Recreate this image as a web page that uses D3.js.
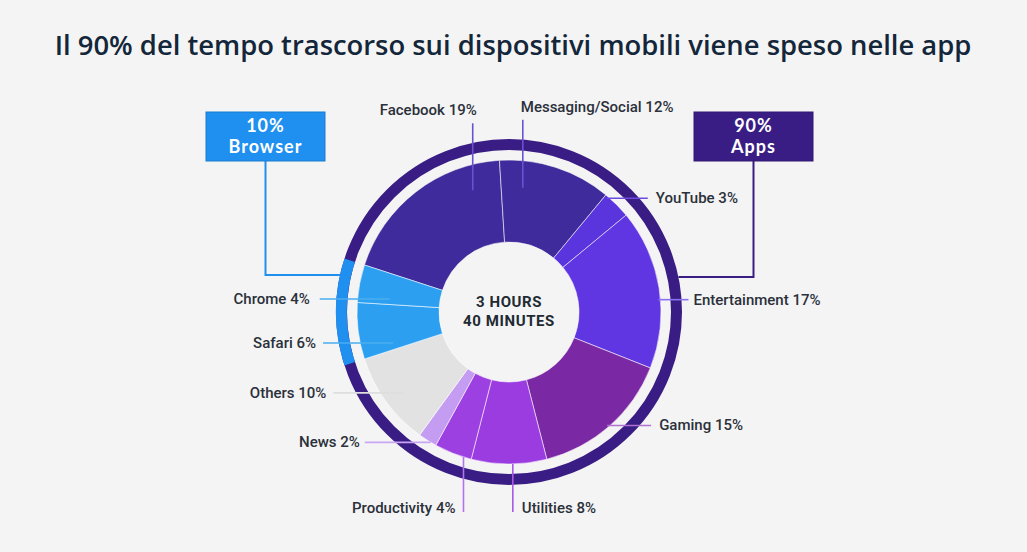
<!DOCTYPE html>
<html>
<head>
<meta charset="utf-8">
<script src="https://cdn.jsdelivr.net/npm/d3@7"></script>
<style>
	body { margin: 0; background: #f4f4f4; }
	svg { display: block; font-family: Roboto, "Noto Sans", sans-serif; }
</style>
</head>
<body>
<svg id="chart" width="1027" height="552"></svg>
<script>
// Data
const title = "Il 90% del tempo trascorso sui dispositivi mobili viene speso nelle app"
const categories = ["Facebook", "Messaging/Social", "YouTube", "Entertainment", "Gaming",
	"Utilities", "Productivity", "News", "Others", "Safari", "Chrome"]
const shares = [19, 12, 3, 17, 15, 8, 4, 2, 10, 6, 4]
const groupOf = ["Apps", "Apps", "Apps", "Apps", "Apps", "Apps", "Apps", "Apps", "Apps", "Browser", "Browser"]
const groups = ["Browser", "Apps"]
const centreText = ["3 HOURS", "40 MINUTES"]

// Styles
const sliceColours = ["#3f2b9b", "#3f2b9b", "#5a34dc", "#6035e2", "#7b28a4",
	"#9a3ce0", "#9c40e2", "#c49cf2", "#e2e2e2", "#2c9ff0", "#2c9ff0"]
const leaderColours = ["#6b52d2", "#6b52d2", "#6c4ae0", "#8a72f0", "#b072d2",
	"#a858e8", "#b274ea", "#c8a6f4", "#dedede", "#4aaef2", "#4aaef2"]
const groupColours = { Browser: "#1f8ff0", Apps: "#3a1d84" }

// Leader layout: where in the slice the line starts, which way it runs
const leaders = [
	{ frac: 0.81, r: 127, dir: "up", len: 67, anchor: "end", dx: 4 },
	{ frac: 0.23, r: 125, dir: "up", len: 68, anchor: "start", dx: -2 },
	{ frac: 0.10, r: 150, dir: "right", len: 41, anchor: "start", dx: 8 },
	{ frac: 0.57, r: 150, dir: "right", len: 30, anchor: "start", dx: 5 },
	{ frac: 0.51, r: 150, dir: "right", len: 44, anchor: "start", dx: 8 },
	{ frac: 0.45, r: 152, dir: "down", len: 48, anchor: "start", dx: 9 },
	{ frac: 0.21, r: 152, dir: "down", len: 55, anchor: "end", dx: -8 },
	{ frac: 0.30, r: 152, dir: "left", len: 66, anchor: "end", dx: -5 },
	{ frac: 0.46, r: 133, dir: "left", len: 70, anchor: "end", dx: -7 },
	{ frac: 0.14, r: 120, dir: "left", len: 70, anchor: "end", dx: -7 },
	{ frac: 0.18, r: 120, dir: "left", len: 70, anchor: "end", dx: -10 }
]

const width = 1027, height = 552
const cx = 509, cy = 312
const innerR = 70, outerR = 152, ringIn = 162, ringOut = 173
const rad = Math.PI / 180

const svg = d3.select("#chart")

svg.append("rect").attr("width", width).attr("height", height).attr("fill", "#f4f4f4")

// Title, fitted to the width it takes in the reference
let t = svg.append("text")
	.attr("x", 513).attr("y", 55)
	.attr("text-anchor", "middle")
	.style("font-family", "'Open Sans', sans-serif")
	.style("font-weight", 600)
	.style("font-size", "25px")
	.attr("fill", "#13263a")
	.text(title)
let tw = t.node().getComputedTextLength()
t.style("font-size", `${25 * 917 / tw}px`)

const data = categories.map((c, i) => ({ name: c, value: shares[i], group: groupOf[i], i }))

const pie = d3.pie()
	.sort(null)
	.value(d => d.value)
	.startAngle(-72 * rad)
	.endAngle(288 * rad)
const arcs = pie(data)

const g = svg.append("g").attr("transform", `translate(${cx},${cy})`)

// Outer group ring: a full Apps ring with the Browser share laid on top
const groupArcs = groups.map(name => {
	let own = arcs.filter(a => a.data.group === name)
	return { name, startAngle: d3.min(own, a => a.startAngle), endAngle: d3.max(own, a => a.endAngle),
		value: d3.sum(own, a => a.value) }
})
const ring = d3.arc().innerRadius(ringIn).outerRadius(ringOut)
g.append("circle").attr("r", (ringIn + ringOut) / 2)
	.attr("fill", "none").attr("stroke", groupColours.Apps).attr("stroke-width", ringOut - ringIn)
g.append("path")
	.datum(groupArcs.find(d => d.name === "Browser"))
	.attr("d", ring)
	.attr("fill", groupColours.Browser)

// Slices
const arc = d3.arc().innerRadius(innerR).outerRadius(outerR)
g.selectAll("path.slice")
	.data(arcs)
	.join("path")
	.attr("class", "slice")
	.attr("d", arc)
	.attr("fill", d => sliceColours[d.data.i])
	.attr("stroke", "rgba(255,255,255,0.55)")
	.attr("stroke-width", 1)

// Leader lines and labels
arcs.forEach(a => {
	let l = leaders[a.data.i]
	let ang = a.startAngle + l.frac * (a.endAngle - a.startAngle)
	let x0 = l.r * Math.sin(ang), y0 = -l.r * Math.cos(ang)
	let x1 = x0, y1 = y0
	if (l.dir === "up") y1 = y0 - l.len
	if (l.dir === "down") y1 = y0 + l.len
	if (l.dir === "left") x1 = x0 - l.len
	if (l.dir === "right") x1 = x0 + l.len
	g.append("line")
		.attr("x1", x0).attr("y1", y0).attr("x2", x1).attr("y2", y1)
		.attr("stroke", leaderColours[a.data.i])
		.attr("stroke-width", 1.6)
	let tx = x1 + l.dx
	let ty = l.dir === "up" ? y1 - 8 : l.dir === "down" ? y1 + 1 : y1 + 5
	g.append("text")
		.attr("x", tx).attr("y", ty)
		.attr("text-anchor", l.anchor)
		.style("font-size", "15px")
		.style("font-weight", 500)
		.attr("fill", "#2b303a")
		.text(`${a.data.name} ${a.data.value}%`)
})

// Centre text
g.append("text")
	.attr("text-anchor", "middle")
	.style("font-size", "15px")
	.style("font-weight", 700)
	.style("letter-spacing", "0.6px")
	.attr("fill", "#1f2a33")
	.selectAll("tspan")
	.data(centreText)
	.join("tspan")
	.attr("x", 0)
	.attr("y", (d, i) => -5 + i * 19)
	.text(d => d)

// Group callouts with elbow connectors to the ring
const callouts = [
	{ name: "Browser", x: 206, side: -1, elbowY: 275 },
	{ name: "Apps", x: 694, side: 1, elbowY: 277 }
]
const boxW = 119, boxH = 49, boxY = 112
callouts.forEach(c => {
	let ga = groupArcs.find(d => d.name === c.name)
	let col = groupColours[c.name]
	let midX = c.x + boxW / 2
	let dy = c.elbowY - cy
	let ringX = cx + c.side * Math.sqrt(ringOut * ringOut - dy * dy)
	svg.append("path")
		.attr("d", `M${midX},${boxY + boxH}V${c.elbowY}H${ringX}`)
		.attr("fill", "none")
		.attr("stroke", col)
		.attr("stroke-width", 2)
	svg.append("rect")
		.attr("x", c.x).attr("y", boxY)
		.attr("width", boxW).attr("height", boxH)
		.attr("fill", col)
		.attr("stroke", d3.color(col).darker(0.4))
		.attr("stroke-width", 1)
	svg.append("text")
		.attr("text-anchor", "middle")
		.style("font-family", "Lato, sans-serif")
		.style("font-size", "18px")
		.style("font-weight", 700)
		.style("letter-spacing", "1px")
		.attr("fill", "#fff")
		.selectAll("tspan")
		.data([`${ga.value}%`, c.name])
		.join("tspan")
		.attr("x", midX)
		.attr("y", (d, i) => boxY + 19.5 + i * 21)
		.text(d => d)
})
</script>
</body>
</html>
